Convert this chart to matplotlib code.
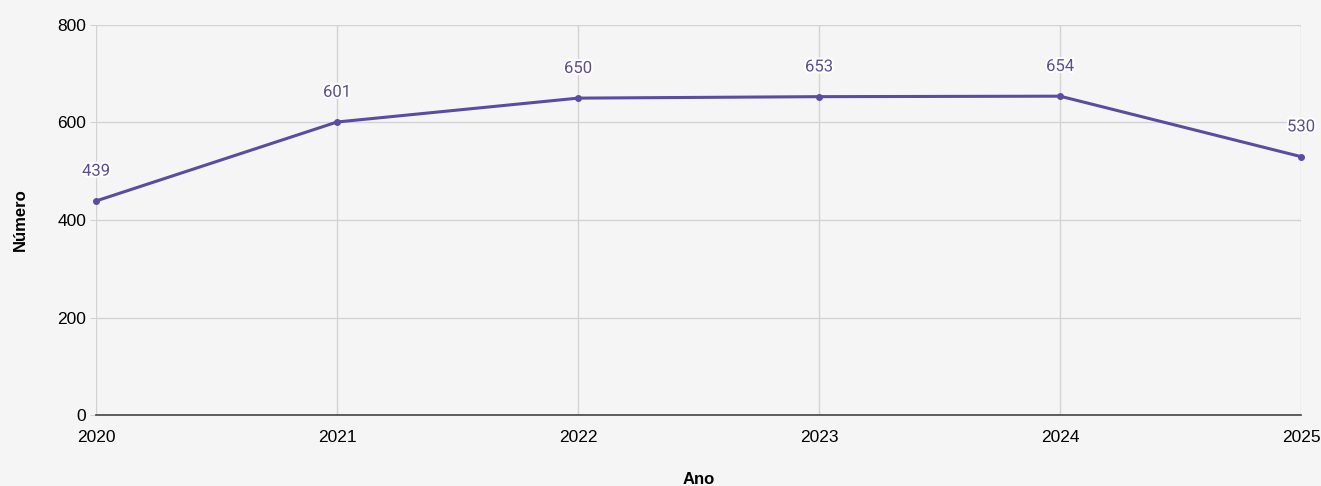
import matplotlib
matplotlib.use("Agg")
import matplotlib.pyplot as plt
import matplotlib.patheffects as pe

anos = [2020, 2021, 2022, 2023, 2024, 2025]
valores = [439, 601, 650, 653, 654, 530]
yticks = [0, 200, 400, 600, 800]

bg = "#f5f5f5"
cor = "#5b4ba2"

fig = plt.figure(figsize=(13.21, 4.86), dpi=100, facecolor=bg)
ax = fig.add_axes([96/1321, (486-415)/486, (1301-96)/1321, (415-25)/486])
ax.set_facecolor(bg)

ax.plot(anos, valores, color=cor, lw=2.2, marker="o", ms=4, clip_on=False, zorder=3)
for x, v in zip(anos, valores):
    ax.annotate(str(v), (x, v), xytext=(0, 16), textcoords="offset points",
                ha="center", va="bottom", fontsize=12, color=cor, family="Roboto",
                path_effects=[pe.withStroke(linewidth=3, foreground="white")], zorder=4)

ax.set_xlim(2020, 2025)
ax.set_ylim(0, 800)
ax.set_xticks(anos)
ax.set_xticklabels([str(a) for a in anos])
ax.set_yticks(yticks)
ax.grid(True, color="#d3d3d3", lw=1)
ax.set_axisbelow(True)
for s in ["top", "right", "left"]:
    ax.spines[s].set_visible(False)
ax.spines["bottom"].set_color("#444444")
ax.spines["bottom"].set_linewidth(1.2)
ax.tick_params(axis="y", length=4, color="#d3d3d3", labelsize=12.5, labelcolor="#000000", pad=3)
ax.tick_params(axis="x", length=0, labelsize=12.5, labelcolor="#000000", pad=11)
for lab in ax.get_xticklabels() + ax.get_yticklabels():
    lab.set_family("Liberation Sans")

ax.set_xlabel("Ano", fontsize=12, fontweight="bold", family="Liberation Sans", labelpad=19)
ax.set_ylabel("Número", fontsize=12, fontweight="bold", family="Liberation Sans", labelpad=21)

fig.savefig("out.png", dpi=100, facecolor=bg)
